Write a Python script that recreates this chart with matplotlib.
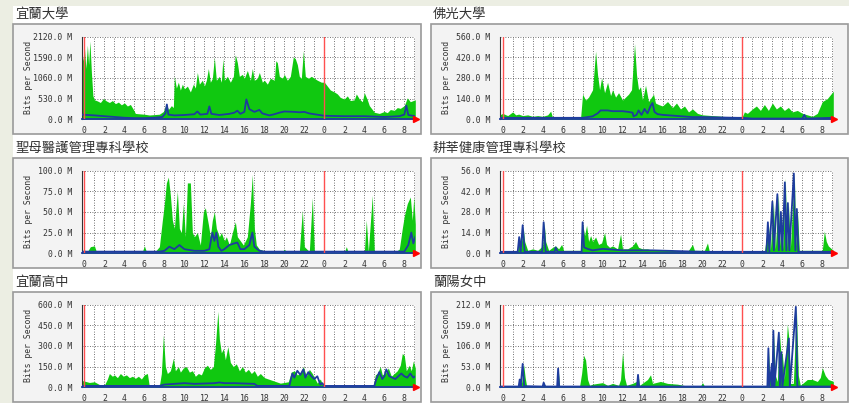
import matplotlib.pyplot as plt
from matplotlib.patches import Rectangle

# ── 資料：時間（小時，0 = 第一條紅線）與流量（M bits/s）──
hour_ticks = list(range(0, 33, 2))
hour_labels = [str(h % 24) for h in hour_ticks]

titles = ['宜蘭大學', '佛光大學', '聖母醫護管理專科學校', '耕莘健康管理專科學校', '宜蘭高中', '蘭陽女中']
y_max = [2120, 560, 100, 56, 600, 212]

ilan_univ_in = [(-0.3, 1800), (-0.15, 1500), (0.0, 1850), (0.15, 1300), (0.3, 1900), (0.42, 1400), (0.55, 2000),
                (0.7, 1200), (0.85, 600), (1.0, 500), (1.3, 470), (1.6, 430), (1.9, 530), (2.2, 470), (2.5, 430),
                (2.8, 480), (3.1, 400), (3.4, 440), (3.7, 370), (4.0, 420), (4.3, 340), (4.6, 380), (4.9, 250),
                (5.1, 150), (5.5, 140), (6.0, 130), (6.5, 110), (7.0, 120), (7.5, 130), (7.9, 200), (8.2, 400),
                (8.4, 250), (8.7, 350), (8.9, 300), (9.0, 1100), (9.2, 800), (9.4, 950), (9.6, 750), (9.8, 900),
                (10.0, 780), (10.3, 850), (10.6, 700), (10.9, 900), (11.1, 800), (11.3, 1200), (11.5, 900),
                (11.8, 1000), (12.0, 850), (12.2, 1000), (12.4, 1300), (12.6, 950), (12.8, 1050), (13.0, 1580),
                (13.2, 1000), (13.5, 1100), (13.7, 950), (13.85, 1550), (14.0, 1000), (14.3, 1100), (14.6, 950),
                (14.9, 1100), (15.1, 1650), (15.3, 1450), (15.5, 1100), (15.8, 1150), (16.0, 1050), (16.3, 1250),
                (16.6, 1000), (16.8, 1300), (17.0, 1000), (17.3, 1050), (17.5, 1200), (17.8, 950), (18.0, 1000),
                (18.3, 900), (18.6, 1050), (19.0, 1000), (19.15, 1500), (19.3, 1450), (19.5, 1100), (19.8, 1050),
                (20.0, 1150), (20.3, 1000), (20.6, 1100), (20.9, 1600), (21.1, 1550), (21.3, 1400), (21.5, 1100),
                (21.7, 1050), (21.9, 1750), (22.1, 1100), (22.4, 1050), (22.7, 1100), (23.0, 1050), (23.3, 1000),
                (23.7, 950), (24.0, 950), (24.3, 850), (24.6, 750), (25.0, 700), (25.3, 650), (25.6, 560),
                (26.0, 520), (26.3, 600), (26.6, 480), (27.0, 500), (27.2, 650), (27.5, 520), (27.8, 450),
                (28.0, 680), (28.3, 500), (28.5, 350), (28.8, 250), (29.0, 180), (29.5, 150), (30.0, 200),
                (30.3, 170), (30.6, 250), (31.0, 230), (31.3, 300), (31.6, 280), (32.0, 350), (32.3, 550),
                (32.6, 450), (33.1, 500)]
ilan_univ_out = [(-0.3, 120), (1, 100), (2, 80), (3, 60), (4, 40), (5, 30), (6, 30), (7, 40), (7.8, 60), (8.1, 150),
                 (8.25, 380), (8.4, 120), (9, 100), (10, 110), (11, 130), (11.3, 200), (11.6, 120), (12.3, 140),
                 (12.5, 330), (12.7, 140), (13.5, 110), (14.5, 140), (15.0, 170), (15.3, 220), (15.6, 140),
                 (16.0, 190), (16.2, 510), (16.5, 260), (17.0, 190), (17.5, 240), (17.8, 150), (18.5, 100),
                 (19, 130), (19.5, 170), (20, 200), (21, 190), (21.5, 180), (22, 190), (22.5, 150), (23, 130),
                 (24, 90), (26, 80), (28, 80), (30, 60), (31.5, 80), (32.0, 120), (32.2, 350), (32.4, 110),
                 (33.1, 80)]

fgu_in = [(-0.3, 30), (0, 40), (0.5, 25), (1.0, 50), (1.3, 30), (1.6, 35), (2, 25), (2.5, 30), (3, 20), (3.5, 25),
          (4, 20), (4.5, 30), (4.8, 55), (5.0, 10), (5.5, 10), (7, 8), (7.8, 10), (8.0, 170), (8.3, 130), (8.6, 150),
          (9.0, 200), (9.3, 460), (9.5, 300), (9.7, 200), (9.9, 280), (10.2, 180), (10.5, 250), (10.8, 160),
          (11.0, 200), (11.3, 150), (11.6, 180), (12, 130), (12.3, 150), (12.6, 170), (12.9, 200), (13.05, 360),
          (13.2, 510), (13.4, 300), (13.6, 200), (13.8, 220), (14.0, 130), (14.3, 230), (14.6, 120), (14.9, 150),
          (15.1, 170), (15.3, 110), (15.6, 100), (16, 90), (16.5, 120), (17, 80), (17.4, 110), (17.8, 70),
          (18.2, 90), (18.6, 50), (19, 70), (19.5, 40), (20, 30), (21, 25), (22, 20), (23, 15), (24, 20),
          (24.2, 50), (24.5, 40), (25, 70), (25.4, 90), (25.8, 60), (26.2, 100), (26.6, 60), (27.0, 110),
          (27.4, 70), (27.8, 90), (28.2, 60), (28.6, 80), (29, 50), (29.5, 60), (30, 40), (30.5, 30), (31, 20),
          (31.5, 40), (32, 120), (32.5, 140), (33.1, 190)]
fgu_out = [(-0.3, 10), (8, 10), (8.5, 15), (9.0, 20), (9.5, 40), (9.8, 60), (10.5, 60), (11, 55), (12, 55),
           (12.6, 50), (13, 45), (13.1, 20), (13.4, 30), (13.6, 60), (13.9, 30), (14.2, 70), (14.5, 40), (14.8, 90),
           (15.0, 110), (15.2, 50), (15.5, 35), (16, 30), (17, 25), (18, 20), (19, 15), (20, 15), (23.5, 10),
           (24, 10), (25, 5), (30.0, 5), (30.2, 30), (30.4, 5), (33.1, 10)]

stmary_in = [(-0.3, 3), (0, 4), (0.3, 2), (0.6, 8), (1.0, 9), (1.2, 2), (2, 1), (4, 1), (5.8, 2), (6.0, 9),
             (6.2, 2), (7, 1), (7.5, 8), (7.8, 40), (8.0, 60), (8.2, 85), (8.4, 92), (8.6, 70), (8.8, 40), (9.0, 30),
             (9.3, 75), (9.5, 30), (9.7, 25), (9.9, 60), (10.1, 20), (10.3, 85), (10.6, 85), (10.8, 25), (11.0, 20),
             (11.3, 25), (11.6, 10), (11.9, 50), (12.1, 55), (12.4, 35), (12.6, 20), (12.8, 40), (13.0, 50),
             (13.2, 30), (13.5, 20), (13.7, 25), (14.0, 15), (14.2, 20), (14.5, 10), (14.8, 25), (15.1, 38),
             (15.3, 20), (15.6, 15), (15.9, 10), (16.3, 20), (16.6, 60), (16.8, 95), (17.0, 30), (17.2, 10),
             (17.5, 5), (18, 3), (19, 2), (19.8, 2), (20, 5), (20.2, 2), (21.5, 2), (21.8, 52), (22.0, 8),
             (22.5, 2), (22.8, 67), (23.0, 3), (24, 1), (26, 1), (26.2, 8), (26.4, 1), (28, 1), (28.2, 40),
             (28.4, 2), (28.8, 70), (29, 2), (31, 1), (31.5, 5), (31.8, 30), (32.0, 45), (32.3, 60), (32.6, 68),
             (32.8, 40), (32.95, 68), (33.1, 35)]
stmary_out = [(-0.3, 2), (1, 2), (7.5, 2), (8, 3), (8.5, 8), (9, 5), (9.5, 10), (10, 5), (11, 3), (12, 3),
              (12.5, 5), (12.8, 25), (13.0, 15), (13.2, 25), (13.4, 8), (13.7, 3), (14, 5), (14.5, 10), (15, 12),
              (15.3, 13), (15.6, 5), (16, 5), (16.5, 10), (16.8, 25), (17, 8), (17.5, 3), (18, 2), (32, 2),
              (32.4, 10), (32.7, 25), (32.9, 12), (33.1, 20)]

cardinal_in = [(-0.3, 1), (1.5, 2), (1.7, 11), (1.8, 3), (2.05, 18), (2.2, 8), (2.5, 2), (3, 3), (3.5, 2), (4.0, 5),
               (4.15, 21), (4.3, 8), (4.6, 2), (5.0, 4), (5.3, 5), (5.6, 3), (5.9, 6), (6.1, 2), (7.8, 2),
               (8.0, 20), (8.2, 12), (8.4, 19), (8.6, 8), (8.8, 12), (9.0, 8), (9.3, 11), (9.6, 6), (9.9, 7),
               (10.2, 14), (10.4, 6), (10.7, 4), (11.0, 5), (11.5, 3), (11.8, 13), (12.0, 3), (12.5, 3), (13.0, 5),
               (13.3, 8), (13.6, 4), (14, 3), (14.5, 3), (15, 2), (16, 2), (17, 2), (18.5, 1), (19.0, 6),
               (19.2, 2), (20.2, 2), (20.5, 7), (20.7, 1), (26.2, 1), (26.6, 20), (26.8, 2), (27.1, 35),
               (27.3, 3), (27.6, 40), (27.75, 5), (27.9, 28), (28.05, 3), (28.3, 51), (28.45, 4), (28.6, 35),
               (28.8, 3), (29.2, 54), (29.35, 5), (29.5, 30), (29.7, 2), (32.0, 2), (32.2, 15), (32.4, 8),
               (32.6, 5), (33.1, 2)]
cardinal_out = [(-0.3, 1), (1.5, 1), (1.65, 11), (1.8, 1), (2.0, 19), (2.2, 1), (3.95, 1), (4.1, 21), (4.3, 1),
                (5.2, 1), (5.3, 4), (5.5, 1), (7.9, 1), (8.0, 21), (8.15, 4), (8.5, 3), (9, 2), (10, 3), (12, 2),
                (15, 2), (20, 1), (26.4, 1), (26.55, 21), (26.7, 1), (27.0, 35), (27.15, 2), (27.5, 40),
                (27.65, 2), (27.85, 28), (28.0, 2), (28.25, 48), (28.4, 2), (28.55, 34), (28.7, 2), (29.15, 54),
                (29.3, 2), (29.45, 30), (29.6, 1), (33.1, 1)]

ilan_hs_in = [(-0.3, 50), (0, 45), (0.5, 35), (1, 40), (1.5, 20), (2, 15), (2.3, 60), (2.5, 100), (2.8, 80),
              (3.0, 90), (3.3, 70), (3.6, 100), (3.9, 80), (4.2, 90), (4.5, 70), (4.8, 80), (5.1, 65), (5.4, 80),
              (5.7, 60), (6.0, 90), (6.3, 100), (6.5, 5), (7.0, 5), (7.5, 10), (7.7, 100), (7.9, 380), (8.1, 150),
              (8.3, 100), (8.6, 120), (8.9, 210), (9.1, 120), (9.4, 150), (9.6, 110), (9.9, 140), (10.2, 150),
              (10.5, 110), (10.8, 120), (11.1, 80), (11.4, 100), (11.7, 90), (12.0, 140), (12.3, 160), (12.6, 130),
              (12.9, 150), (13.1, 300), (13.35, 550), (13.5, 350), (13.7, 250), (13.9, 280), (14.1, 200),
              (14.35, 295), (14.6, 180), (14.9, 150), (15.2, 170), (15.5, 120), (15.8, 150), (16.1, 110),
              (16.4, 130), (16.7, 100), (17.0, 120), (17.3, 80), (17.6, 100), (18.0, 70), (18.4, 60), (18.8, 50),
              (19.2, 40), (19.6, 30), (20.0, 35), (20.4, 40), (20.7, 110), (21.0, 120), (21.3, 90), (21.6, 100),
              (21.9, 150), (22.2, 80), (22.5, 130), (22.8, 100), (23.0, 70), (23.3, 30), (23.6, 60), (23.9, 5),
              (28.9, 5), (29.1, 90), (29.3, 100), (29.6, 150), (29.8, 90), (30.1, 100), (30.4, 140), (30.7, 80),
              (31.0, 100), (31.3, 120), (31.6, 160), (31.8, 245), (32.0, 230), (32.2, 120), (32.5, 160),
              (32.7, 120), (32.9, 190), (33.1, 140)]
ilan_hs_out = [(-0.3, 10), (7.5, 10), (8, 20), (9, 25), (10, 30), (11, 25), (13, 30), (13.5, 35), (14, 30), (15, 30),
               (17, 25), (17.3, 10), (20.5, 10), (20.8, 100), (21.0, 70), (21.3, 120), (21.6, 90), (21.9, 130),
               (22.1, 70), (22.4, 110), (22.7, 80), (23.0, 60), (23.3, 80), (23.6, 20), (23.8, 30), (24.0, 10),
               (29.0, 10), (29.2, 60), (29.5, 110), (29.8, 60), (30.0, 80), (30.2, 130), (30.5, 80), (30.8, 70),
               (31.1, 60), (31.4, 80), (31.7, 100), (32.0, 80), (32.3, 70), (32.6, 100), (32.9, 70), (33.1, 80)]

lanyang_in = [(-0.3, 3), (1.5, 3), (1.7, 20), (1.85, 3), (2.1, 58), (2.25, 25), (2.4, 3), (4.0, 3), (4.1, 12),
              (4.3, 3), (5.4, 3), (5.55, 48), (5.7, 3), (7.7, 3), (7.9, 35), (8.1, 82), (8.3, 70), (8.5, 20),
              (8.7, 5), (9.0, 8), (9.5, 10), (10.0, 12), (10.5, 5), (11.0, 10), (11.6, 5), (11.8, 20), (12.0, 90),
              (12.2, 25), (12.4, 5), (13.0, 10), (13.4, 15), (13.55, 32), (13.7, 5), (14.5, 20), (14.8, 32),
              (15.0, 10), (15.8, 15), (16.5, 10), (17.5, 8), (18.5, 3), (19.0, 5), (19.8, 3), (20.0, 12),
              (20.2, 3), (26.4, 3), (26.6, 100), (26.75, 20), (26.9, 60), (27.0, 10), (27.1, 145), (27.3, 30),
              (27.5, 15), (27.7, 140), (27.85, 90), (28.0, 85), (28.2, 20), (28.5, 162), (28.65, 125), (28.8, 10),
              (29.1, 10), (29.4, 206), (29.6, 30), (29.8, 5), (30.5, 20), (31.0, 20), (31.5, 15), (31.8, 25),
              (32.0, 50), (32.3, 30), (32.6, 20), (33.1, 15)]
lanyang_out = [(-0.3, 2), (1.6, 2), (1.7, 20), (1.8, 2), (2.0, 60), (2.15, 3), (4.0, 2), (4.1, 12), (4.25, 2),
               (5.45, 2), (5.55, 48), (5.65, 2), (13.45, 2), (13.55, 32), (13.65, 2), (26.5, 2), (26.6, 100),
               (26.7, 2), (26.95, 60), (27.0, 2), (27.1, 145), (27.2, 2), (27.65, 140), (27.75, 2), (27.9, 90),
               (28.0, 2), (28.65, 125), (28.75, 2), (29.35, 206), (29.5, 2), (33.1, 2)]

series_in = [ilan_univ_in, fgu_in, stmary_in, cardinal_in, ilan_hs_in, lanyang_in]
series_out = [ilan_univ_out, fgu_out, stmary_out, cardinal_out, ilan_hs_out, lanyang_out]

# ── 版面（像素座標）──
W, H = 849, 403
fig = plt.figure(figsize=(W / 100, H / 100), dpi=100)
fig.patch.set_facecolor('#eceee3')

bg = fig.add_axes([0, 0, 1, 1])
bg.set_xlim(0, W)
bg.set_ylim(H, 0)
bg.axis('off')
bg.add_patch(Rectangle((13, 6), W - 13, H - 6, facecolor='white', edgecolor='none'))

col_box = [(13, 421), (431, 848)]
col_plot = [(81.7, 415), (500, 833)]
row_box_top = [24, 158, 292]
GREEN = '#10c810'
BLUE = '#1e3c9e'
MONO = 'DejaVu Sans Mono'
FS = 5.9

for i in range(6):
    col, row = i % 2, i // 2
    bx0, bx1 = col_box[col]
    top = row_box_top[row]
    bg.add_patch(Rectangle((bx0, top), bx1 - bx0, 110, facecolor='#f3f3f3', edgecolor='#9a9a9a', lw=1.2))
    bg.text(bx0 + 2, top - 10, titles[i], fontsize=9.6, family='Noto Sans CJK TC', color='#333333',
            va='center', ha='left')
    px0, px1 = col_plot[col]
    py0, py1 = top + 12.5, top + 95.3
    bg.text(bx0 + 16, (py0 + py1) / 2, 'Bits per Second', rotation=90, fontsize=FS, family=MONO,
            color='#333333', ha='center', va='center')

    ax = fig.add_axes([px0 / W, 1 - py1 / H, (px1 - px0) / W, (py1 - py0) / H])
    ax.set_facecolor('white')
    ax.set_xlim(-0.27, 33.07)
    ax.set_ylim(0, y_max[i])

    # 每小時的點狀格線
    for h in range(0, 34):
        ax.axvline(h, color='#444444', lw=0.6, ls=(0, (1, 2)), zorder=1)
    yt = [y_max[i] * k / 4 for k in range(5)]
    for y in yt[1:]:
        ax.axhline(y, color='#444444', lw=0.6, ls=(0, (1, 2)), zorder=1)

    t_in = [p[0] for p in series_in[i]]
    v_in = [p[1] for p in series_in[i]]
    t_out = [p[0] for p in series_out[i]]
    v_out = [p[1] for p in series_out[i]]
    ax.fill_between(t_in, v_in, color=GREEN, lw=0, zorder=2)
    ax.plot(t_out, v_out, color=BLUE, lw=1.3, zorder=3)

    for d in (0, 24):
        ax.axvline(d, color='#ff5050', lw=1.0, zorder=4)

    ax.set_xticks(hour_ticks)
    ax.set_xticklabels(hour_labels)
    ax.set_yticks(yt)
    ax.set_yticklabels([f'{v:.1f} M' for v in yt])
    ax.tick_params(length=0, labelsize=FS, colors='#333333', pad=5)
    ax.tick_params(axis='y', pad=7)
    for lab in ax.get_xticklabels() + ax.get_yticklabels():
        lab.set_family(MONO)
    for s in ('top', 'right'):
        ax.spines[s].set_visible(False)
    ax.spines['left'].set_color('#333333')
    ax.spines['bottom'].set_color('#1e3c9e')
    ax.spines['left'].set_linewidth(0.8)
    ax.spines['bottom'].set_linewidth(1.3)
    ax.plot([33.2], [0], marker='>', color='red', ms=4, clip_on=False, zorder=5)

fig.savefig('out.png', dpi=100, facecolor=fig.get_facecolor())
